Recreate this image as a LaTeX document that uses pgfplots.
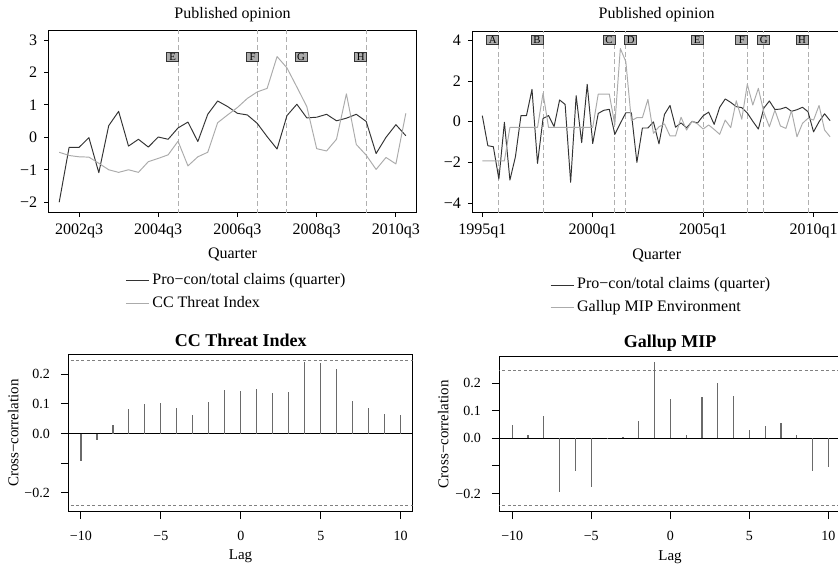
\documentclass[border=0pt]{standalone}
\usepackage{fontspec}
\setmainfont{Liberation Serif}
\usepackage{pgfplots}
\pgfplotsset{compat=1.18}
\usepackage{pgfplotstable}

\definecolor{dk}{HTML}{333333}
\definecolor{lt}{HTML}{ABABAB}
\definecolor{vl}{HTML}{B0B0B0}
\definecolor{barc}{HTML}{6A6A6A}
\definecolor{boxf}{HTML}{ABABAB}
\newcommand\fs[1]{\fontsize{#1}{#1}\selectfont}

% quarter index k: 0 = 1995q1
\pgfplotstableread{
k v
0 0.30
1 -1.18
2 -1.23
3 -2.82
4 -0.03
5 -2.87
6 -1.72
7 0.30
8 0.30
9 1.59
10 -2.05
11 0.16
12 0.30
13 -0.24
14 1.07
15 0.85
16 -2.98
17 1.28
18 -1.03
19 1.84
20 -1.07
21 0.41
22 0.56
23 0.61
24 -0.62
25 -0.08
26 0.44
27 0.44
28 -2.00
29 -0.31
30 -0.31
31 -0.01
32 -1.09
33 0.36
34 0.80
35 -0.27
36 -0.06
37 -0.30
38 0.01
39 -0.06
40 0.29
41 0.47
42 -0.13
43 0.71
44 1.12
45 0.95
46 0.74
47 0.69
48 0.43
49 0.02
50 -0.36
51 0.67
52 1.02
53 0.60
54 0.62
55 0.71
56 0.51
57 0.59
58 0.71
59 0.49
60 -0.50
61 0.00
62 0.39
63 0.05
}\procon

\pgfplotstableread{
k v
28 -0.46
29 -0.56
30 -0.60
31 -0.61
32 -0.80
33 -1.00
34 -1.08
35 -1.00
36 -1.08
37 -0.75
38 -0.65
39 -0.54
40 -0.12
41 -0.88
42 -0.60
43 -0.46
44 0.45
45 0.69
46 0.92
47 1.20
48 1.40
49 1.51
50 2.49
51 2.14
52 1.55
53 0.95
54 -0.35
55 -0.42
56 -0.06
57 1.34
58 -0.22
59 -0.55
60 -0.99
61 -0.62
62 -0.82
63 0.74
}\ccthreat

\pgfplotstableread{
k v
0 -1.93
1 -1.93
2 -1.93
3 -1.93
4 -1.93
5 -0.28
6 -0.28
7 -0.28
8 -0.28
9 -0.28
10 -0.28
11 1.40
12 -0.28
13 -0.28
14 -0.28
15 -0.28
16 -0.28
17 -0.28
18 -0.28
19 -0.28
20 -0.28
21 1.36
22 1.36
23 1.36
24 -0.15
25 3.60
26 2.95
27 0.05
28 0.20
29 0.20
30 1.10
31 -0.57
32 -0.25
33 -0.11
34 -0.70
35 -0.70
36 0.22
37 -0.41
38 0.03
39 -0.11
40 -0.36
41 -0.16
42 -0.38
43 -0.62
44 0.08
45 -0.29
46 1.03
47 0.12
48 1.84
49 0.82
50 1.64
51 0.46
52 -0.25
53 0.57
54 -0.21
55 -0.33
56 0.54
57 -0.74
58 -0.08
59 0.17
60 0.08
61 0.80
62 -0.41
63 -0.74
}\gallup

\pgfplotstableread{
lag r
-10 -0.092
-9 -0.021
-8 0.029
-7 0.082
-6 0.099
-5 0.104
-4 0.087
-3 0.062
-2 0.107
-1 0.148
0 0.142
1 0.151
2 0.137
3 0.139
4 0.240
5 0.237
6 0.217
7 0.111
8 0.087
9 0.066
10 0.061
}\ccf

\pgfplotstableread{
lag r
-10 0.047
-9 0.012
-8 0.080
-7 -0.194
-6 -0.117
-5 -0.175
-4 -0.004
-3 0.004
-2 0.063
-1 0.276
0 0.141
1 0.012
2 0.151
3 0.201
4 0.154
5 0.030
6 0.045
7 0.057
8 0.012
9 -0.117
10 -0.104
}\gallupccf

\pgfplotsset{
  base/.style={
    scale only axis, anchor=south west,
    axis line style={line width=0.5pt, black},
    tick style={line width=0.5pt, black},
    tick align=outside, tick pos=left,
    major tick length=2.4pt,
    clip=true,
    every axis plot/.append style={line join=round},
  },
  tsstyle/.style={
    base,
    ticklabel style={font=\fs{8}},
    legend cell align=left,
    legend style={draw=none, fill=none, font=\fs{8}, inner sep=0pt,
      nodes={inner sep=1.5pt, text height=5.5pt, text depth=1.7pt},
      row sep=1.0pt},
    legend image code/.code={\draw[#1, line width=0.5pt] (0pt,0pt) -- (11.5pt,0pt);},
  },
  ccfstyle/.style={
    base,
    major tick length=3.7pt,
    ticklabel style={font=\fs{7}},
    xtick={-10,-5,0,5,10},
    xticklabels={−10,−5,0,5,10},
    ytick={-0.2,-0.1,0,0.1,0.2},
    yticklabels={−0.2,,0.0,0.1,0.2},
  },
  vline/.style={vl, line width=0.5pt, dash pattern=on 2.5pt off 1.4pt, forget plot},
}
\tikzset{
  lbox/.style={fill=boxf, draw=black!80, line width=0.4pt, inner sep=0pt,
    minimum width=6pt, minimum height=4.2pt, font=\fs{5.4}, text height=3.5pt, text depth=0pt},
}

\begin{document}
\begin{tikzpicture}
% ---------------- top left ----------------
\begin{axis}[tsstyle,
  at={(24.5pt,-106pt)}, width=183.5pt, height=90.5pt,
  xmin=26.97, xmax=64.03, ymin=-2.302, ymax=3.278,
  xtick={30,38,46,54,62},
  xticklabels={2002q3,2004q3,2006q3,2008q3,2010q3},
  ytick={-2,-1,0,1,2,3},
  yticklabels={−2,−1,0,1,2,3},
  legend style={at={(0.207,-0.322)}, anchor=north west},
]
\addplot[vline] coordinates {(40,-5) (40,5)};
\addplot[vline] coordinates {(48,-5) (48,5)};
\addplot[vline] coordinates {(51,-5) (51,5)};
\addplot[vline] coordinates {(59,-5) (59,5)};
\addplot[dk, line width=0.48pt] table[x=k, y=v, restrict x to domain=28:63] {\procon};
\addplot[lt, line width=0.48pt] table[x=k, y=v] {\ccthreat};
\legend{Pro−con/total claims (quarter), CC Threat Index}
\node[lbox] at (axis cs:39.47,2.48) {E};
\node[lbox] at (axis cs:47.53,2.48) {F};
\node[lbox] at (axis cs:52.43,2.48) {G};
\node[lbox] at (axis cs:58.44,2.48) {H};
\end{axis}

% ---------------- top right ----------------
\begin{axis}[tsstyle,
  at={(236.35pt,-106pt)}, width=183.5pt, height=90.5pt,
  xmin=-1.74, xmax=64.74, ymin=-4.44, ymax=4.46,
  xtick={0,20,40,60},
  xticklabels={1995q1,2000q1,2005q1,2010q1},
  ytick={-4,-2,0,2,4},
  yticklabels={−4,−2,0,2,4},
  legend style={at={(0.21,-0.345)}, anchor=north west},
]
\addplot[vline] coordinates {(3,-6) (3,6)};
\addplot[vline] coordinates {(11,-6) (11,6)};
\addplot[vline] coordinates {(24,-6) (24,6)};
\addplot[vline] coordinates {(26,-6) (26,6)};
\addplot[vline] coordinates {(40,-6) (40,6)};
\addplot[vline] coordinates {(48,-6) (48,6)};
\addplot[vline] coordinates {(51,-6) (51,6)};
\addplot[vline] coordinates {(59,-6) (59,6)};
\addplot[dk, line width=0.48pt] table[x=k, y=v] {\procon};
\addplot[lt, line width=0.48pt] table[x=k, y=v] {\gallup};
\legend{Pro−con/total claims (quarter), Gallup MIP Environment}
\node[lbox] at (axis cs:1.88,4.02) {A};
\node[lbox] at (axis cs:9.91,4.02) {B};
\node[lbox] at (axis cs:22.95,4.02) {C};
\node[lbox] at (axis cs:26.9,4.02) {D};
\node[lbox] at (axis cs:38.93,4.02) {E};
\node[lbox] at (axis cs:47.0,4.02) {F};
\node[lbox] at (axis cs:50.98,4.02) {G};
\node[lbox] at (axis cs:57.9,4.02) {H};
\end{axis}

% ---------------- bottom left ----------------
\begin{axis}[ccfstyle,
  at={(34.15pt,-255.85pt)}, width=172.2pt, height=78.85pt,
  xmin=-10.79, xmax=10.75, ymin=-0.263, ymax=0.268,
  xticklabel style={yshift=-2.6pt},
  yticklabel style={xshift=-2pt},
]
\addplot[black, line width=0.5pt] coordinates {(-12,0) (12,0)};
\addplot[gray, line width=0.45pt, dash pattern=on 1.5pt off 1.2pt] coordinates {(-12,0.245) (12,0.245)};
\addplot[gray, line width=0.45pt, dash pattern=on 1.5pt off 1.2pt] coordinates {(-12,-0.243) (12,-0.243)};
\addplot[ycomb, barc, line width=0.6pt] table[x=lag, y=r] {\ccf};
\end{axis}

% ---------------- bottom right ----------------
\begin{axis}[ccfstyle,
  at={(249.65pt,-255.85pt)}, width=170.85pt, height=77.5pt,
  xmin=-10.82, xmax=10.8, ymin=-0.266, ymax=0.296,
  xticklabel style={yshift=-2.6pt},
  yticklabel style={xshift=-2pt},
]
\addplot[black, line width=0.5pt] coordinates {(-12,0) (12,0)};
\addplot[gray, line width=0.45pt, dash pattern=on 1.5pt off 1.2pt] coordinates {(-12,0.245) (12,0.245)};
\addplot[gray, line width=0.45pt, dash pattern=on 1.5pt off 1.2pt] coordinates {(-12,-0.244) (12,-0.244)};
\addplot[ycomb, barc, line width=0.6pt] table[x=lag, y=r] {\gallupccf};
\end{axis}

% ---------------- titles and labels ----------------
\node[font=\fs{8}] at (116.25pt,-7.35pt) {Published opinion};
\node[font=\fs{8}] at (328.3pt,-7.35pt) {Published opinion};
\node[font=\fs{8}] at (116.25pt,-127.15pt) {Quarter};
\node[font=\fs{8}] at (328.35pt,-127.85pt) {Quarter};
\node[font=\fs{9}\bfseries] at (120.35pt,-170pt) {CC Threat Index};
\node[font=\fs{9}\bfseries] at (335pt,-171.35pt) {Gallup MIP};
\node[font=\fs{7.5}, rotate=90] at (6.65pt,-216.5pt) {Cross−correlation};
\node[font=\fs{7.5}, rotate=90] at (221.65pt,-217.1pt) {Cross−correlation};
\node[font=\fs{7.5}] at (120.25pt,-278pt) {Lag};
\node[font=\fs{7.5}] at (335pt,-278.5pt) {Lag};

\pgfresetboundingbox
\useasboundingbox (0pt,0pt) rectangle (419pt,-283.5pt);
\end{tikzpicture}
\end{document}
